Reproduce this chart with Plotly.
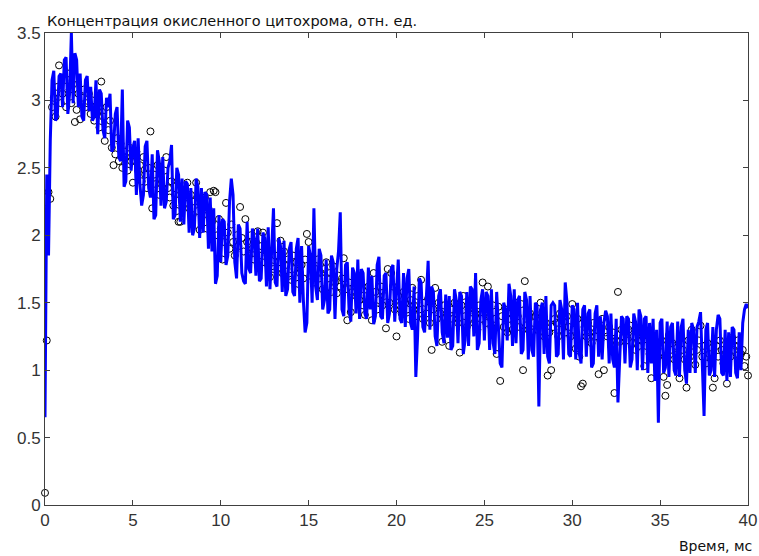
import plotly.graph_objects as go

# Sampling step of both recordings, ms
step_ms = 0.1

# Blue trace: oxidized cytochrome concentration (0.1 ms samples)
line_0_10 = [
    0.65, 2.45, 1.85, 2.70, 3.15, 3.22, 2.85, 2.88, 3.18, 3.20,
    2.95, 3.30, 3.32, 2.90, 3.05, 3.50, 2.98, 3.35, 3.30, 2.95,
    3.20, 2.88, 2.85, 3.15, 3.18, 2.92, 3.10, 2.85, 2.88, 3.15,
    2.75, 3.08, 3.05, 2.78, 2.72, 3.02, 2.95, 3.05, 2.62, 2.65,
    2.90, 2.95, 2.58, 2.55, 3.08, 2.36, 2.40, 2.85, 2.80, 2.48,
    2.65, 2.70, 2.30, 2.72, 2.38, 2.22, 2.30, 2.66, 2.70, 2.35,
    2.28, 2.60, 2.12, 2.15, 2.63, 2.55, 2.22, 2.58, 2.20, 2.25,
    2.50, 2.55, 2.67, 2.12, 2.15, 2.50, 2.45, 2.10, 2.42, 2.08,
    2.40, 2.38, 2.02, 2.35, 2.00, 2.05, 2.42, 2.36, 1.98, 2.35,
    2.02, 2.32, 2.30, 1.90, 2.28, 1.88, 2.20, 1.64, 1.70, 2.15,
]
line_10_20 = [
    1.80, 2.12, 2.10, 1.78, 1.85, 2.25, 2.42, 2.30, 1.80, 1.68,
    2.08, 2.05, 1.72, 1.66, 1.64, 2.10, 1.75, 1.72, 2.05, 1.98,
    1.70, 2.05, 1.66, 1.68, 2.02, 1.98, 1.62, 2.06, 1.60, 1.95,
    2.20, 1.65, 1.62, 1.98, 1.92, 1.58, 1.96, 1.55, 1.60, 1.90,
    1.95, 1.58, 1.55, 1.90, 1.98, 1.50, 1.92, 1.52, 1.28, 1.35,
    1.92, 1.85, 1.50, 2.20, 1.62, 1.52, 1.90, 1.85, 1.45, 1.52,
    1.82, 1.42, 1.45, 1.85, 1.80, 1.38, 1.75, 1.88, 2.17, 1.45,
    1.40, 1.78, 1.80, 1.45, 1.36, 1.76, 1.72, 1.42, 1.82, 1.38,
    1.75, 1.72, 1.42, 1.38, 1.76, 1.45, 1.70, 1.34, 1.40, 1.78,
    1.84, 1.40, 1.38, 1.70, 1.72, 1.35, 1.42, 1.75, 1.78, 1.36,
]
line_20_30 = [
    1.65, 1.82, 1.38, 1.35, 1.72, 1.32, 1.68, 1.75, 1.35, 1.30,
    1.62, 0.95, 1.25, 1.68, 1.65, 1.32, 1.28, 1.60, 1.81, 1.30,
    1.62, 1.58, 1.25, 1.18, 1.55, 1.60, 1.28, 1.20, 1.56, 1.24,
    1.55, 1.15, 1.18, 1.60, 1.52, 1.20, 1.58, 1.55, 1.12, 1.22,
    1.58, 1.18, 1.62, 1.60, 1.25, 1.72, 1.15, 1.20, 1.52, 1.60,
    1.22, 1.58, 1.55, 1.15, 1.60, 1.20, 1.12, 1.58, 1.25, 1.05,
    1.02, 1.50, 1.45, 1.22, 1.64, 1.55, 1.18, 1.60, 1.20, 1.52,
    1.55, 1.12, 1.15, 1.58, 1.52, 1.08, 1.55, 1.15, 1.10, 1.50,
    1.48, 0.73, 1.45, 1.50, 1.12, 1.55, 1.10, 1.05, 1.48, 1.50,
    1.48, 1.10, 1.12, 1.52, 1.45, 1.08, 1.65, 1.50, 1.12, 1.10,
]
line_30_40 = [
    1.48, 1.45, 1.08, 1.50, 1.12, 1.05, 1.45, 1.48, 1.10, 1.42,
    1.45, 1.02, 1.05, 1.42, 1.48, 1.10, 1.40, 1.08, 1.35, 1.44,
    1.40, 1.05, 1.42, 1.08, 1.02, 1.38, 0.76, 1.05, 1.40, 1.38,
    1.05, 1.40, 1.38, 1.02, 1.08, 1.42, 1.36, 1.00, 1.45, 1.40,
    1.00, 1.38, 1.40, 0.98, 1.35, 1.05, 1.38, 0.92, 1.30, 0.61,
    1.35, 1.38, 0.98, 1.02, 1.36, 0.95, 1.32, 1.35, 1.00, 0.96,
    1.36, 0.95, 1.32, 1.38, 1.00, 0.90, 1.30, 0.98, 1.35, 1.30,
    0.98, 1.32, 1.36, 1.43, 1.00, 0.66, 1.30, 1.35, 0.96, 1.00,
    1.32, 0.95, 1.30, 1.41, 1.38, 0.98, 0.96, 1.30, 0.92, 1.28,
    0.95, 1.32, 1.30, 0.98, 0.94, 1.28, 1.00, 1.35, 1.45, 1.49,
    1.46,
]

# Black circles: measured points (0.1 ms samples)
circ_0_10 = [
    0.09, 1.22, 2.32, 2.27, 2.95, 3.02, 2.88, 3.10, 3.26, 2.98,
    3.05, 3.15, 2.95, 3.20, 3.08, 2.98, 3.12, 2.84, 2.93, 3.05,
    2.86, 3.02, 3.08, 2.95, 2.98, 3.05, 2.90, 3.00, 2.85, 2.95,
    2.92, 2.80, 3.14, 2.88, 2.70, 2.95, 2.78, 2.85, 2.65, 2.52,
    2.60, 2.72, 2.55, 2.68, 2.50, 2.62, 2.58, 2.48, 2.65, 2.55,
    2.39, 2.55, 2.62, 2.48, 2.52, 2.40, 2.58, 2.45, 2.35, 2.50,
    2.77, 2.20, 2.45, 2.38, 2.52, 2.30, 2.42, 2.35, 2.48, 2.58,
    2.35, 2.28, 2.40, 2.22, 2.30, 2.18, 2.10, 2.10, 2.25, 2.32,
    2.28, 2.39, 2.20, 2.30, 2.15, 2.25, 2.39, 2.18, 2.04, 2.22,
    2.15, 2.28, 2.05, 2.20, 2.32, 2.10, 2.33, 2.32, 2.00, 2.12,
]
circ_10_20 = [
    2.05, 1.82, 1.95, 2.24, 2.02, 1.90, 2.08, 1.95, 1.85, 2.00,
    1.92, 2.21, 1.98, 1.88, 2.12, 1.95, 1.85, 2.00, 1.90, 1.82,
    1.95, 2.03, 1.85, 1.92, 2.02, 1.80, 1.88, 1.78, 1.69, 1.77,
    1.75, 1.85, 2.09, 1.80, 1.96, 1.72, 1.88, 1.78, 1.82, 1.70,
    1.67, 1.85, 1.75, 1.80, 1.64, 1.72, 1.78, 1.68, 1.82, 2.01,
    1.95, 1.70, 1.78, 1.65, 1.75, 1.82, 1.68, 1.72, 1.60, 1.75,
    1.80, 1.68, 1.72, 1.58, 1.77, 1.65, 1.57, 1.70, 1.62, 1.68,
    1.83, 1.60, 1.37, 1.65, 1.43, 1.58, 1.62, 1.55, 1.69, 1.52,
    1.60, 1.48, 1.41, 1.55, 1.62, 1.50, 1.37, 1.72, 1.58, 1.45,
    1.52, 1.62, 1.48, 1.55, 1.31, 1.75, 1.50, 1.72, 1.62, 1.45,
]
circ_20_30 = [
    1.25, 1.55, 1.48, 1.42, 1.58, 1.50, 1.45, 1.38, 1.52, 1.61,
    1.48, 1.40, 1.55, 1.45, 1.67, 1.38, 1.50, 1.42, 1.53, 1.35,
    1.15, 1.45, 1.61, 1.38, 1.50, 1.42, 1.21, 1.48, 1.35, 1.40,
    1.18, 1.45, 1.38, 1.50, 1.42, 1.35, 1.13, 1.48, 1.55, 1.40,
    1.32, 1.45, 1.38, 1.50, 1.35, 1.42, 1.30, 1.48, 1.38, 1.65,
    1.45, 1.35, 1.62, 1.40, 1.32, 1.48, 1.38, 1.12, 1.47, 0.92,
    1.40, 1.32, 1.45, 1.28, 1.38, 1.42, 1.30, 1.35, 1.50, 1.40,
    1.32, 1.49, 1.00, 1.66, 1.38, 1.30, 1.42, 1.28, 1.35, 1.40,
    1.30, 1.38, 1.50, 1.43, 1.25, 1.35, 0.96, 1.28, 1.00, 1.32,
    1.38, 1.35, 1.25, 1.42, 1.30, 1.36, 1.28, 1.40, 1.32, 1.25,
]
circ_30_40 = [
    1.49, 1.30, 1.16, 1.38, 1.10, 0.88, 0.90, 1.32, 1.25, 1.35,
    1.28, 1.20, 1.35, 1.25, 1.30, 0.97, 1.22, 1.38, 1.00, 1.28,
    1.25, 1.32, 1.18, 1.28, 0.83, 1.22, 1.58, 1.21, 1.30, 1.25,
    1.28, 1.22, 1.30, 1.33, 1.20, 1.25, 1.15, 1.28, 1.18, 1.22,
    1.25, 1.03, 1.18, 1.28, 1.12, 0.94, 1.24, 1.15, 1.20, 1.10,
    1.18, 1.22, 0.95, 0.81, 0.89, 1.26, 1.15, 1.20, 1.08, 1.18,
    1.12, 0.94, 1.20, 1.15, 1.08, 0.87, 1.22, 1.10, 1.30, 1.18,
    1.04, 1.15, 1.22, 1.33, 1.10, 1.18, 1.05, 1.20, 1.12, 1.08,
    0.87, 0.94, 1.18, 1.10, 1.22, 1.15, 1.05, 1.12, 0.90, 1.18,
    1.10, 1.24, 1.15, 1.18, 1.22, 1.08, 1.12, 1.15, 1.03, 1.10,
    0.96,
]

x_ticks = [0, 5, 10, 15, 20, 25, 30, 35, 40]
y_ticks = [0, 0.5, 1, 1.5, 2, 2.5, 3, 3.5]
y_tick_text = ["0", "0.5", "1", "1.5", "2", "2.5", "3", "3.5"]

title_text = "Концентрация окисленного цитохрома, отн. ед."
xlabel_text = "Время, мс"

line_vals = line_0_10 + line_10_20 + line_20_30 + line_30_40
circ_vals = circ_0_10 + circ_10_20 + circ_20_30 + circ_30_40
t_line = [round(i * step_ms, 1) for i in range(len(line_vals))]
t_circ = [round(i * step_ms, 1) for i in range(len(circ_vals))]

fig = go.Figure()
fig.add_trace(go.Scatter(
    x=t_circ, y=circ_vals, mode="markers",
    marker=dict(symbol="circle-open", size=7, color="black", line=dict(width=1)),
    cliponaxis=False, showlegend=False, hoverinfo="skip",
))
fig.add_trace(go.Scatter(
    x=t_line, y=line_vals, mode="lines",
    line=dict(color="#0000FF", width=3),
    showlegend=False, hoverinfo="skip",
))

axis_common = dict(
    showgrid=False, zeroline=False, showline=True, linecolor="#404040",
    linewidth=1, mirror="ticks", ticks="inside", ticklen=5, tickcolor="#404040",
    automargin=False,
    tickfont=dict(family="Liberation Sans, Arial, sans-serif", size=17, color="#333333"),
)

fig.update_xaxes(range=[0, 40], tickmode="array", tickvals=x_ticks, **axis_common)
fig.update_yaxes(range=[0, 3.5], tickmode="array", tickvals=y_ticks,
                 ticktext=y_tick_text, **axis_common)

fig.update_layout(
    width=759, height=556,
    margin=dict(l=45, r=11, t=33, b=51),
    paper_bgcolor="white", plot_bgcolor="white",
    annotations=[
        dict(text=title_text, x=0, y=1, xref="paper", yref="paper",
             xanchor="left", yanchor="bottom", yshift=2, showarrow=False,
             font=dict(family="DejaVu Sans", size=14.5, color="#111111")),
        dict(text=xlabel_text, x=1, y=0, xref="paper", yref="paper",
             xanchor="right", yanchor="top", xshift=6, yshift=-31, showarrow=False,
             font=dict(family="DejaVu Sans", size=14, color="#111111")),
    ],
)

fig.write_html("out.html", config={"displayModeBar": False},
               post_script="document.body.style.margin='0';")
